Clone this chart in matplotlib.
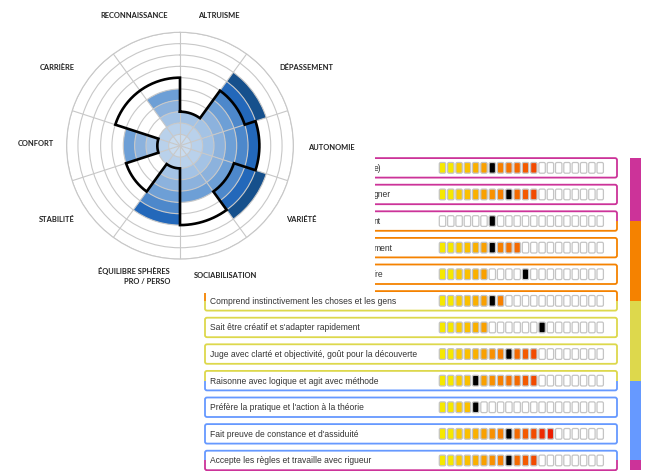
import numpy as np
import matplotlib
matplotlib.use("Agg")
import matplotlib.pyplot as plt
from matplotlib.patches import FancyBboxPatch, Rectangle

# ---- polar chart data (clockwise from north) ----
axes_names = ["ALTRUISME", "DÉPASSEMENT", "AUTONOMIE", "VARIÉTÉ", "SOCIABILISATION",
              "ÉQUILIBRE SPHÈRES\nPRO / PERSO", "STABILITÉ", "CONFORT", "CARRIÈRE",
              "RECONNAISSANCE"]
filled = [3, 8, 7, 8, 5, 7, 2, 5, 2, 5]
outline = [3, 6, 7, 5, 7, 2, 5, 2, 6, 6]

# ---- row list data ----
row_labels = ["e)", "gner", "nt", "ment", "ire",
              "Comprend instinctivement les choses et les gens",
              "Sait être créatif et s'adapter rapidement",
              "Juge avec clarté et objectivité, goût pour la découverte",
              "Raisonne avec logique et agit avec méthode",
              "Préfère la pratique et l'action à la théorie",
              "Fait preuve de constance et d'assiduité",
              "Accepte les règles et travaille avec rigueur"]
levels = [12, 12, 0, 10, 6, 8, 6, 12, 12, 4, 14, 12]
markers = [7, 9, 7, 7, 11, 7, 13, 9, 5, 5, 9, 9]
n_cells = 20

ring_colors = ["#c9dcf0", "#b9d1eb", "#a4c3e5", "#8cb2dd", "#6d9fd6",
               "#4d88cb", "#2368ba", "#16508c"]
cell_colors = ["#f6e800", "#f6e800", "#fbcc00", "#fbc000", "#fab000", "#f9a000",
               "#f89000", "#f78000", "#f67400", "#f56a00", "#f45a00", "#f24a00",
               "#ee2a00", "#ec1c00"]
band_colors = ["#cc3399", "#f58200", "#ddd84c", "#6699ff", "#cc3399"]

W, H = 661, 471
fig = plt.figure(figsize=(W / 100, H / 100), dpi=100)
ax = fig.add_axes([0, 0, 1, 1])
ax.set_xlim(0, W)
ax.set_ylim(H, 0)
ax.axis("off")

# layout (pixels)
row_top0 = 158.1
pitch = 26.6
box_h = 19.5
box_x0, box_x1 = 205, 617
cell_x0, cell_pitch, cell_w, cell_h = 439.3, 8.3, 6.4, 10.7

centers = [row_top0 + i * pitch + box_h / 2 for i in range(len(row_labels))]
bounds = [0] + [centers[i] for i in (2, 5, 8, 11)] + [H]

for i, lab in enumerate(row_labels):
    top = row_top0 + i * pitch
    cy = top + box_h / 2
    base = FancyBboxPatch((box_x0, top), box_x1 - box_x0, box_h,
                          boxstyle="round,pad=0,rounding_size=2",
                          facecolor="white", edgecolor="none", zorder=1)
    ax.add_patch(base)
    for b in range(len(band_colors)):
        p = FancyBboxPatch((box_x0, top), box_x1 - box_x0, box_h,
                           boxstyle="round,pad=0,rounding_size=2",
                           facecolor="none", edgecolor=band_colors[b],
                           linewidth=1.3, zorder=2)
        ax.add_patch(p)
        clip = Rectangle((0, bounds[b]), W, bounds[b + 1] - bounds[b],
                         transform=ax.transData)
        p.set_clip_path(clip)
    tx = 210 if i >= 5 else 373.5
    ax.text(tx, cy + 0.5, lab, fontsize=6.15, family="Liberation Sans",
            color="#333333", va="center", ha="left", zorder=3)
    for c in range(n_cells):
        pos = c + 1
        if pos == markers[i]:
            fc = "black"
        elif pos <= levels[i]:
            fc = cell_colors[c]
        else:
            fc = "white"
        cell = FancyBboxPatch((cell_x0 + c * cell_pitch, cy - cell_h / 2), cell_w, cell_h,
                              boxstyle="round,pad=0,rounding_size=1.5",
                              facecolor=fc, edgecolor="#c4c4c4", linewidth=0.9, zorder=3)
        ax.add_patch(cell)

# side bar
for b in range(len(band_colors)):
    y0 = max(bounds[b], row_top0)
    y1 = min(bounds[b + 1], row_top0 + 11 * pitch + box_h)
    ax.add_patch(Rectangle((630, y0), 11, y1 - y0, facecolor=band_colors[b],
                           edgecolor="none", zorder=2))

# white area of the radar picture
ax.add_patch(Rectangle((0, 0), 375, 293, facecolor="white", edgecolor="none", zorder=10))

# radar labels
label_pos = [(218.5, 16, "center"), (306, 67, "center"), (331, 147, "center"),
             (301, 220, "center"), (225.5, 275, "center"), (170, 276, "right"),
             (56.5, 219, "center"), (35.5, 144, "center"), (57.5, 67, "center"),
             (134, 16, "center")]
for name, (x, y, ha) in zip(axes_names, label_pos):
    ax.text(x, y, name, fontsize=5.4, family="Lato", fontweight="bold",
            color="#222222", ha=ha, va="center", ma="right", zorder=11,
            linespacing=1.5)

# ---- polar chart ----
cx, cy, R = 180, 145.7, 113.4
pax = fig.add_axes([(cx - R) / W, 1 - (cy + R) / H, 2 * R / W, 2 * R / H],
                   projection="polar")
pax.set_theta_zero_location("N")
pax.set_theta_direction(-1)
n = len(axes_names)
width = 2 * np.pi / n
theta_c = np.arange(n) * width + width / 2
for k in range(n):
    for r in range(filled[k]):
        pax.bar(theta_c[k], 1, width=width, bottom=r, color=ring_colors[r],
                edgecolor="none", linewidth=0, zorder=1)

th, rr = [], []
for k in range(n):
    t = np.linspace(k * width, (k + 1) * width, 40)
    th.extend(t)
    rr.extend([outline[k]] * len(t))
th.append(th[0])
rr.append(rr[0])
pax.plot(th, rr, color="black", linewidth=1.9, solid_joinstyle="miter", zorder=4)

pax.set_ylim(0, 10)
pax.set_yticks(np.arange(1, 11))
pax.set_xticks(np.arange(n) * width)
pax.set_xticklabels([])
pax.set_yticklabels([])
pax.set_axisbelow(False)
pax.grid(True, color="#c8c8c8", linewidth=0.8)
pax.spines["polar"].set_color("#c8c8c8")
pax.spines["polar"].set_linewidth(0.8)

fig.savefig("out.png", dpi=100)
